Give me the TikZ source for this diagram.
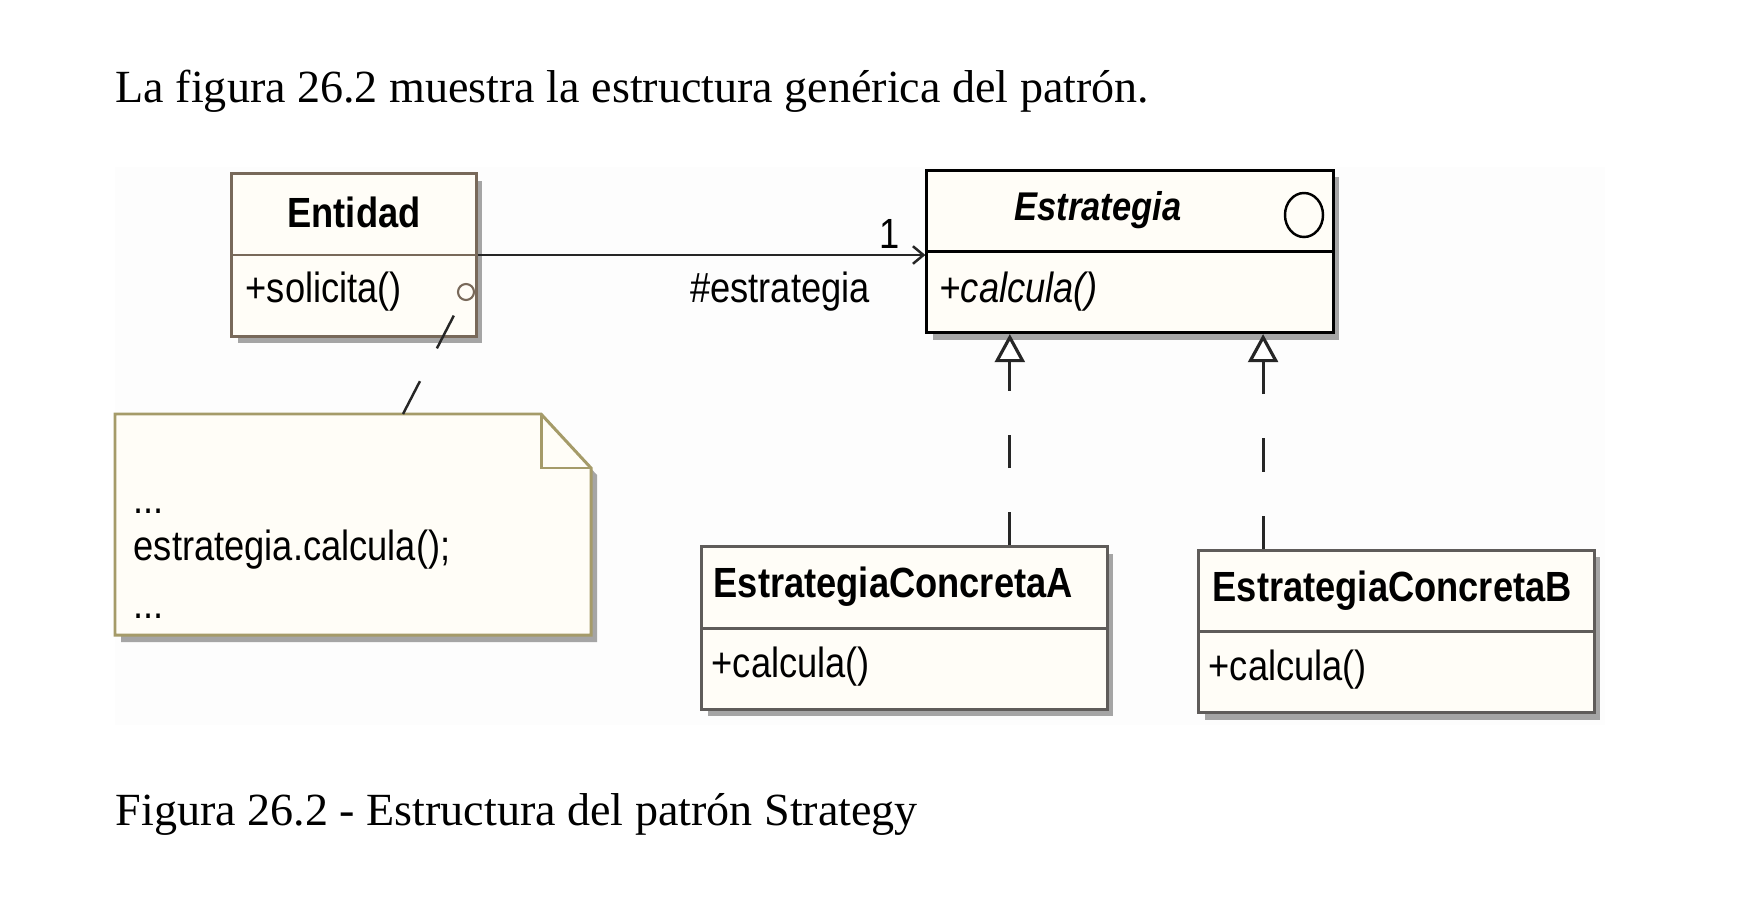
\documentclass[tikz,border=0pt]{standalone}
\usepackage{fontspec}
\setmainfont{Liberation Serif}
\newfontfamily\umlsf[FakeStretch=0.86]{Liberation Sans}
\usepackage{tikz}
\usetikzlibrary{shapes.geometric, positioning, arrows.meta, calc, shadows}
\definecolor{UMLFill}{RGB}{255,253,247}
\definecolor{UMLTan}{RGB}{120,105,90}
\definecolor{UMLGray}{RGB}{95,92,90}
\definecolor{UMLShadow}{RGB}{165,165,165}
\definecolor{NoteLine}{RGB}{165,155,105}
\definecolor{PageBg}{RGB}{253,253,253}

\begin{document}
\begin{tikzpicture}[x=0.01cm, y=-0.01cm,
      cls/.style={rectangle, fill=UMLFill, line width=0.85pt,
                  minimum height=1.62cm, inner sep=0pt,
                  drop shadow={shadow xshift=0.06cm, shadow yshift=-0.07cm,
                               fill=UMLShadow, opacity=1}},
      title/.style={font=\umlsf\bfseries\fontsize{12}{14}\selectfont, inner sep=0pt},
      abstitle/.style={font=\umlsf\bfseries\itshape\fontsize{11.4}{14}\selectfont, inner sep=0pt},
      member/.style={font=\umlsf\fontsize{12}{14}\selectfont, inner sep=0pt, anchor=west},
      nota/.style={fill=UMLFill, draw=NoteLine, line width=0.85pt},
      assoc/.style={-{Straight Barb[length=3pt, width=5pt]}, line width=0.7pt, black!85},
      realiz/.style={-{Triangle[open, length=8pt, width=8.5pt, fill=white, line width=0.9pt]},
                     line width=0.9pt, black!85, dash pattern=on 9.5pt off 12.5pt},
      ancla/.style={line width=0.7pt, black!85, dash pattern=on 10.5pt off 10.5pt}
    ]
    \useasboundingbox (0,0) rectangle (1748,912);

    % Texts above and below
    \node[anchor=base west, inner sep=0pt, font=\fontsize{13.1}{16}\selectfont] (intro)
          at (115,102) {La figura 26.2 muestra la estructura genérica del patrón.};
    \node[anchor=base west, inner sep=0pt, font=\fontsize{13.1}{16}\selectfont] (pie)
          at (115,825) {Figura 26.2 - Estructura del patrón Strategy};

    % Diagram background
    \fill[PageBg] (115,167) rectangle (1605,725);

    % Classes
    \foreach \n/\x/\y/\w/\c in {ent/354/255/2.44/UMLTan, est/1130/251.5/4.06/black,
                                estA/904.5/628/4.05/UMLGray, estB/1396.5/631.5/3.95/UMLGray} {
      \node[cls, draw=\c, minimum width=\w cm] (\n) at (\x,\y) {};
      \draw[\c, line width=0.85pt] (\n.west) -- (\n.east);
    }

    \node[title] (entT) at (354,212) {Entidad};
    \node[member] (entM) at (245,292) {+solicita()};
    \node[draw=UMLTan, circle, minimum size=0.16cm, inner sep=0pt, line width=0.6pt]
          (puerto) at (466,292) {};

    \node[abstitle] (estT) at (1098,210) {Estrategia};
    \node[member, font=\umlsf\itshape\fontsize{12}{14}\selectfont] (estM) at (939,292) {+calcula()};
    \node[draw, ellipse, line width=0.7pt, minimum width=0.38cm, minimum height=0.44cm,
          inner sep=0pt] (iface) at (1304,215) {};

    \node[title, anchor=west] (estAT) at (713,587) {EstrategiaConcretaA};
    \node[member] (estAM) at (711,667) {+calcula()};
    \node[title, anchor=west] (estBT) at (1212,591) {EstrategiaConcretaB};
    \node[member] (estBM) at (1208,670) {+calcula()};

    % Note
    \draw[nota, drop shadow={shadow xshift=0.06cm, shadow yshift=-0.07cm,
                             fill=UMLShadow, opacity=1}]
          (115,414) -- (541,414) -- (591,468) -- (591,635) -- (115,635) -- cycle;
    \draw[nota, fill=none] (541,414) -- (541,468) -- (591,468);
    \coordinate (notaTop) at (403,414);
    \node[member] (nota1) at (133,511) {...};
    \node[member] (nota2) at (133,550) {estrategia.calcula();};
    \node[member] (nota3) at (133,616) {...};
    \draw[ancla] (notaTop) -- (puerto);

    % Association
    \draw[assoc] (ent.east) -- (ent.east -| est.west);
    \node[member, anchor=center] (mult) at (890,234) {1};
    \node[member, anchor=center] (rol) at (780,292) {\#estrategia};

    % Realizations
    \coordinate (pA) at ($(estA.north west)!0.758!(estA.north east)$);
    \coordinate (pB) at ($(estB.north west)!0.165!(estB.north east)$);
    \draw[realiz] (pA) -- (pA |- est.south);
    \draw[realiz] (pB) -- (pB |- est.south);
  \end{tikzpicture}
\end{document}
